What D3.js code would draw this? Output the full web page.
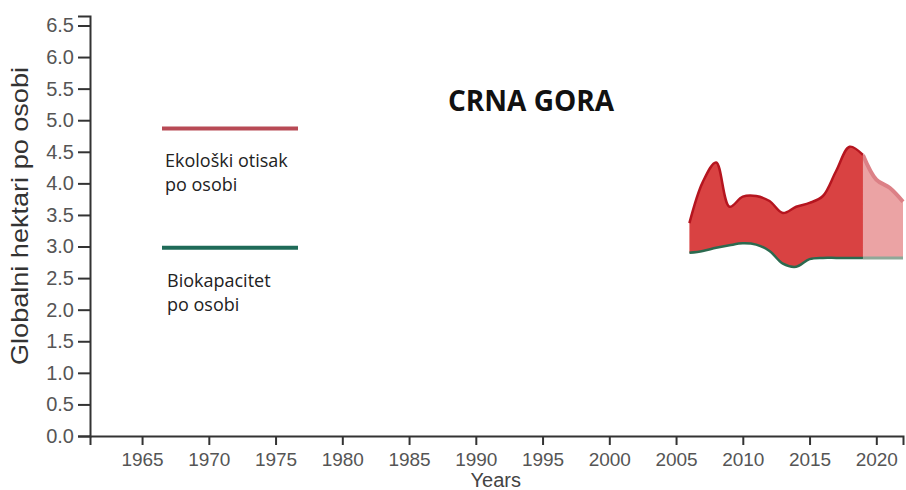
<!DOCTYPE html>
<html>
<head>
<meta charset="utf-8">
<script src="https://cdn.jsdelivr.net/npm/d3@7"></script>
<style>
	body { margin: 0; background: #fff; }
	svg { display: block; }
</style>
</head>
<body>
<svg width="906" height="490"></svg>
<script>
// data
var years = [2006, 2007, 2008, 2009, 2010, 2011, 2012, 2013, 2014, 2015, 2016, 2017, 2018, 2019, 2020, 2021, 2022]
var footprint = [3.37, 4.02, 4.33, 3.63, 3.79, 3.80, 3.72, 3.53, 3.63, 3.69, 3.80, 4.20, 4.58, 4.45, 4.06, 3.93, 3.71]
var biocapacity = [2.90, 2.93, 2.98, 3.02, 3.05, 3.03, 2.93, 2.73, 2.68, 2.80, 2.82, 2.82, 2.82, 2.82, 2.82, 2.82, 2.82]
var lastMeasured = 2019
var xTicks = [1965, 1970, 1975, 1980, 1985, 1990, 1995, 2000, 2005, 2010, 2015, 2020]
var yTicks = [0, 0.5, 1, 1.5, 2, 2.5, 3, 3.5, 4, 4.5, 5, 5.5, 6, 6.5]
var legendItems = [
	{ lines: ['Ekološki otisak', 'po osobi'], color: '#b84a55', value: 4.87 },
	{ lines: ['Biokapacitet', 'po osobi'], color: '#1f6b58', value: 2.98 }
]

var svg = d3.select('svg')

var x = d3.scaleLinear().domain([1961.1, 2022]).range([90, 903])
var y = d3.scaleLinear().domain([0, 6.65]).range([436, 16])

var rows = years.map(function(yr, i) {
	return { year: yr, fp: footprint[i], bc: biocapacity[i] }
})
var measured = rows.filter(function(d) { return d.year <= lastMeasured })
var projected = rows.filter(function(d) { return d.year >= lastMeasured })

var curve = d3.curveCatmullRom.alpha(0.5)

var band = d3.area().curve(curve)
	.x(function(d) { return x(d.year) })
	.y0(function(d) { return y(d.bc) })
	.y1(function(d) { return y(d.fp) })
var topLine = d3.line().curve(curve)
	.x(function(d) { return x(d.year) })
	.y(function(d) { return y(d.fp) })
var bcLine = d3.line().curve(curve)
	.x(function(d) { return x(d.year) })
	.y(function(d) { return y(d.bc) })

// projected part, lighter
svg.append('path').datum(projected).attr('d', band)
	.attr('fill', '#eba3a4')
svg.append('path').datum(projected).attr('d', topLine)
	.attr('fill', 'none').attr('stroke', '#dc8086').attr('stroke-width', 4)
svg.append('path').datum(projected).attr('d', bcLine)
	.attr('fill', 'none').attr('stroke', '#8fa898').attr('stroke-width', 3)

// measured part
svg.append('path').datum(measured).attr('d', band)
	.attr('fill', '#d94242')
svg.append('path').datum(measured).attr('d', topLine)
	.attr('fill', 'none').attr('stroke', '#b5151f').attr('stroke-width', 2.5)
svg.append('path').datum(measured).attr('d', bcLine)
	.attr('fill', 'none').attr('stroke', '#2b6a4f').attr('stroke-width', 2.5)

// axes
var xAxis = svg.append('g')
	.attr('transform', 'translate(0,' + y(0) + ')')
	.call(d3.axisBottom(x).tickValues(xTicks).tickFormat(d3.format('d')).tickSize(9).tickPadding(8))
var yAxis = svg.append('g')
	.attr('transform', 'translate(' + x(1961.1) + ',0)')
	.call(d3.axisLeft(y).tickValues(yTicks).tickFormat(d3.format('.1f')).tickSize(12).tickPadding(4))

;[xAxis, yAxis].forEach(function(g) {
	g.selectAll('path, line').attr('stroke', '#333').attr('stroke-width', 2)
	g.selectAll('text').attr('fill', '#555').attr('font-family', 'Liberation Sans, Arial, sans-serif')
})
xAxis.selectAll('text').attr('font-size', 19)
yAxis.selectAll('text').attr('font-size', 20)

svg.append('text')
	.attr('x', x(1991.5)).attr('y', 487)
	.attr('text-anchor', 'middle')
	.attr('font-family', 'Liberation Sans, Arial, sans-serif')
	.attr('font-size', 20).attr('fill', '#444')
	.text('Years')

svg.append('text')
	.attr('transform', 'translate(28,216) rotate(-90)')
	.attr('text-anchor', 'middle')
	.attr('font-family', 'Liberation Sans, Arial, sans-serif')
	.attr('font-size', 24).attr('fill', '#333')
	.attr('textLength', 298).attr('lengthAdjust', 'spacingAndGlyphs')
	.text('Globalni hektari po osobi')

svg.append('text')
	.attr('x', 531).attr('y', 111)
	.attr('text-anchor', 'middle')
	.attr('font-family', 'Open Sans, sans-serif')
	.attr('font-weight', 'bold')
	.attr('font-size', 28).attr('fill', '#111')
	.text('CRNA GORA')

// legend
var leg = svg.selectAll('g.legend').data(legendItems).enter()
	.append('g').attr('class', 'legend')
leg.append('line')
	.attr('x1', 162).attr('x2', 298)
	.attr('y1', function(d) { return y(d.value) })
	.attr('y2', function(d) { return y(d.value) })
	.attr('stroke', function(d) { return d.color })
	.attr('stroke-width', 4)
leg.each(function(d, i) {
	var t = d3.select(this).append('text')
		.attr('font-family', 'Open Sans, sans-serif')
		.attr('font-size', 18).attr('fill', '#222')
	d.lines.forEach(function(s, j) {
		t.append('tspan')
			.attr('x', 165 + i * 2)
			.attr('y', y(d.value) + 39 + j * 24)
			.text(s)
	})
})
</script>
</body>
</html>
